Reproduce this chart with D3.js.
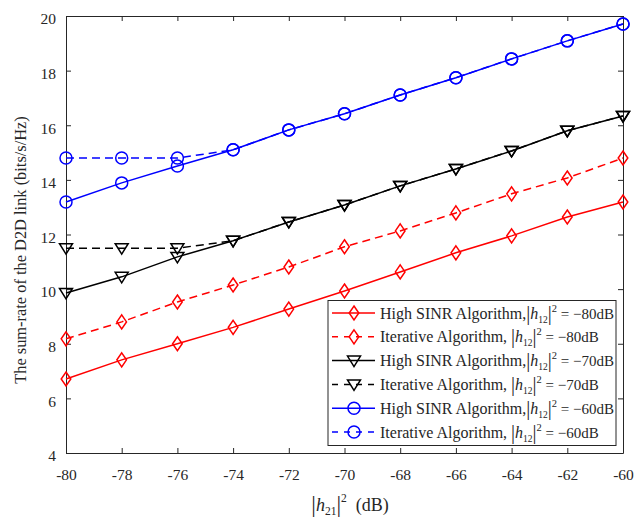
<!DOCTYPE html>
<html>
  <head>
    <style>
      body { margin: 0; background: #fff; }
      svg text { font-family: "Liberation Serif", "Times New Roman", serif; fill: #262626; }
      .axis path, .axis line { stroke: #262626; }
    </style>
  </head>
  <body>
    <script src="https://d3js.org/d3.v7.min.js"></script>
    <script>
      // x values (dB)
      var xs = [-80, -78, -76, -74, -72, -70, -68, -66, -64, -62, -60];
      var xTicks = xs;
      var yTicks = [4, 6, 8, 10, 12, 14, 16, 18, 20];

      // series values
      var highSinr80 = [6.71, 7.41, 8.0, 8.6, 9.27, 9.93, 10.63, 11.33, 11.95, 12.64, 13.19];
      var iter80     = [8.18, 8.8, 9.53, 10.15, 10.81, 11.55, 12.13, 12.79, 13.49, 14.07, 14.8];
      var highSinr70 = [9.86, 10.45, 11.18, 11.77, 12.46, 13.08, 13.78, 14.4, 15.06, 15.8, 16.34];
      var iter70     = [11.5, 11.5, 11.5, 11.77, 12.46, 13.08, 13.78, 14.4, 15.06, 15.8, 16.34];
      var highSinr60 = [13.19, 13.89, 14.51, 15.1, 15.83, 16.42, 17.11, 17.74, 18.43, 19.09, 19.71];
      var iter60     = [14.8, 14.8, 14.8, 15.1, 15.83, 16.42, 17.11, 17.74, 18.43, 19.09, 19.71];

      var series = [
        {name: "High SINR Algorithm,", db: "80", values: highSinr80, color: "#ff0000", dash: null, marker: "diamond"},
        {name: "Iterative Algorithm, ", db: "80", values: iter80, color: "#ff0000", dash: "8,5", marker: "diamond"},
        {name: "High SINR Algorithm,", db: "70", values: highSinr70, color: "#000000", dash: null, marker: "tri"},
        {name: "Iterative Algorithm, ", db: "70", values: iter70, color: "#000000", dash: "8,5", marker: "tri"},
        {name: "High SINR Algorithm,", db: "60", values: highSinr60, color: "#0000ff", dash: null, marker: "circle"},
        {name: "Iterative Algorithm, ", db: "60", values: iter60, color: "#0000ff", dash: "8,5", marker: "circle"}
      ];

      var W = 639, H = 519;
      var margin = {left: 66, right: 16, top: 16, bottom: 66};
      var width = W - margin.left - margin.right,
          height = H - margin.top - margin.bottom;

      var x = d3.scaleLinear().domain([-80, -60]).range([0, width]);
      var y = d3.scaleLinear().domain([4, 20]).range([height, 0]);

      var svg = d3.select("body").append("svg").attr("width", W).attr("height", H);
      var g = svg.append("g").attr("transform", "translate(" + [margin.left, margin.top] + ")");

      // axes with inward ticks, box on all sides
      g.append("g").attr("class", "axis").attr("transform", "translate(0," + height + ")")
        .call(d3.axisBottom(x).tickValues(xTicks).tickSizeInner(-5).tickSizeOuter(0).tickPadding(16).tickFormat(d => "-" + Math.abs(d)))
        .call(a => a.selectAll("text").attr("font-size", 15.5).style("font-family", "Liberation Serif"));
      g.append("g").attr("class", "axis")
        .call(d3.axisLeft(y).tickValues(yTicks).tickSizeInner(-5).tickSizeOuter(0).tickPadding(10))
        .call(a => a.selectAll("text").attr("font-size", 15.5).attr("dy", "0.5em").style("font-family", "Liberation Serif"));
      g.append("g").attr("class", "axis")
        .call(d3.axisTop(x).tickValues(xTicks).tickSizeInner(-5).tickSizeOuter(0).tickFormat(""));
      g.append("g").attr("class", "axis").attr("transform", "translate(" + width + ",0)")
        .call(d3.axisRight(y).tickValues(yTicks).tickSizeInner(-5).tickSizeOuter(0).tickFormat(""));
      g.selectAll(".axis .domain").attr("stroke", "#262626");

      var line = d3.line().x((d, i) => x(xs[i])).y(d => y(d));

      function drawMarker(sel, type, color) {
        if (type === "diamond") {
          sel.append("path").attr("d", "M0,-7L4.8,0L0,7L-4.8,0Z");
        } else if (type === "tri") {
          sel.append("path").attr("d", "M-6.5,-4.5L6.5,-4.5L0,6Z");
        } else {
          sel.append("circle").attr("r", 6);
        }
        sel.selectAll("path,circle").attr("fill", "none").attr("stroke", color).attr("stroke-width", 1.5);
      }

      series.forEach(function (s) {
        g.append("path").datum(s.values)
          .attr("fill", "none").attr("stroke", s.color).attr("stroke-width", 1.5)
          .attr("stroke-dasharray", s.dash)
          .attr("d", line);
        g.selectAll(null).data(s.values).enter().append("g")
          .attr("transform", (d, i) => "translate(" + [x(xs[i]), y(d)] + ")")
          .each(function () { drawMarker(d3.select(this), s.marker, s.color); });
      });

      // legend
      var lg = svg.append("g").attr("transform", "translate(328,300.5)");
      lg.append("rect").attr("width", 288).attr("height", 145)
        .attr("fill", "#fff").attr("stroke", "#262626").attr("stroke-width", 1);
      series.forEach(function (s, i) {
        var row = lg.append("g").attr("transform", "translate(0," + (12.5 + i * 23.8) + ")");
        row.append("line").attr("x1", 4).attr("x2", 47).attr("y1", 0).attr("y2", 0)
          .attr("stroke", s.color).attr("stroke-width", 1.5).attr("stroke-dasharray", s.dash ? "6,6" : null);
        drawMarker(row.append("g").attr("transform", "translate(26,0)"), s.marker, s.color);
        var t = row.append("text").attr("x", 52).attr("y", 5.5).attr("font-size", 15);
        t.append("tspan").attr("font-size", 16).text(s.name);
        t.append("tspan").attr("font-size", 20).attr("dy", 1).text("|");
        t.append("tspan").attr("font-style", "italic").attr("font-size", 16).attr("dy", -1).text("h");
        t.append("tspan").attr("font-size", 9.5).attr("dy", 4).text("12");
        t.append("tspan").attr("font-size", 20).attr("dy", -3).text("|");
        t.append("tspan").attr("font-size", 10.5).attr("dy", -8).text("2");
        t.append("tspan").attr("dy", 7).text(" = \u2212" + s.db + "dB");
      });

      // axis titles
      var xl = svg.append("text").attr("x", 350).attr("y", 511).attr("text-anchor", "middle").attr("font-size", 18);
      xl.append("tspan").attr("font-size", 23).attr("dy", 1).text("|");
      xl.append("tspan").attr("font-style", "italic").attr("dy", -1).text("h");
      xl.append("tspan").attr("font-size", 11.5).attr("dy", 4).text("21");
      xl.append("tspan").attr("font-size", 23).attr("dy", -3).text("|");
      xl.append("tspan").attr("font-size", 11.5).attr("dy", -10).text("2");
      xl.append("tspan").attr("dy", 9).text("\u00a0\u00a0(dB)");

      svg.append("text").attr("transform", "translate(26,250) rotate(-90)")
        .attr("text-anchor", "middle").attr("font-size", 16.4)
        .text("The sum-rate of the D2D link (bits/s/Hz)");
    </script>
  </body>
</html>
